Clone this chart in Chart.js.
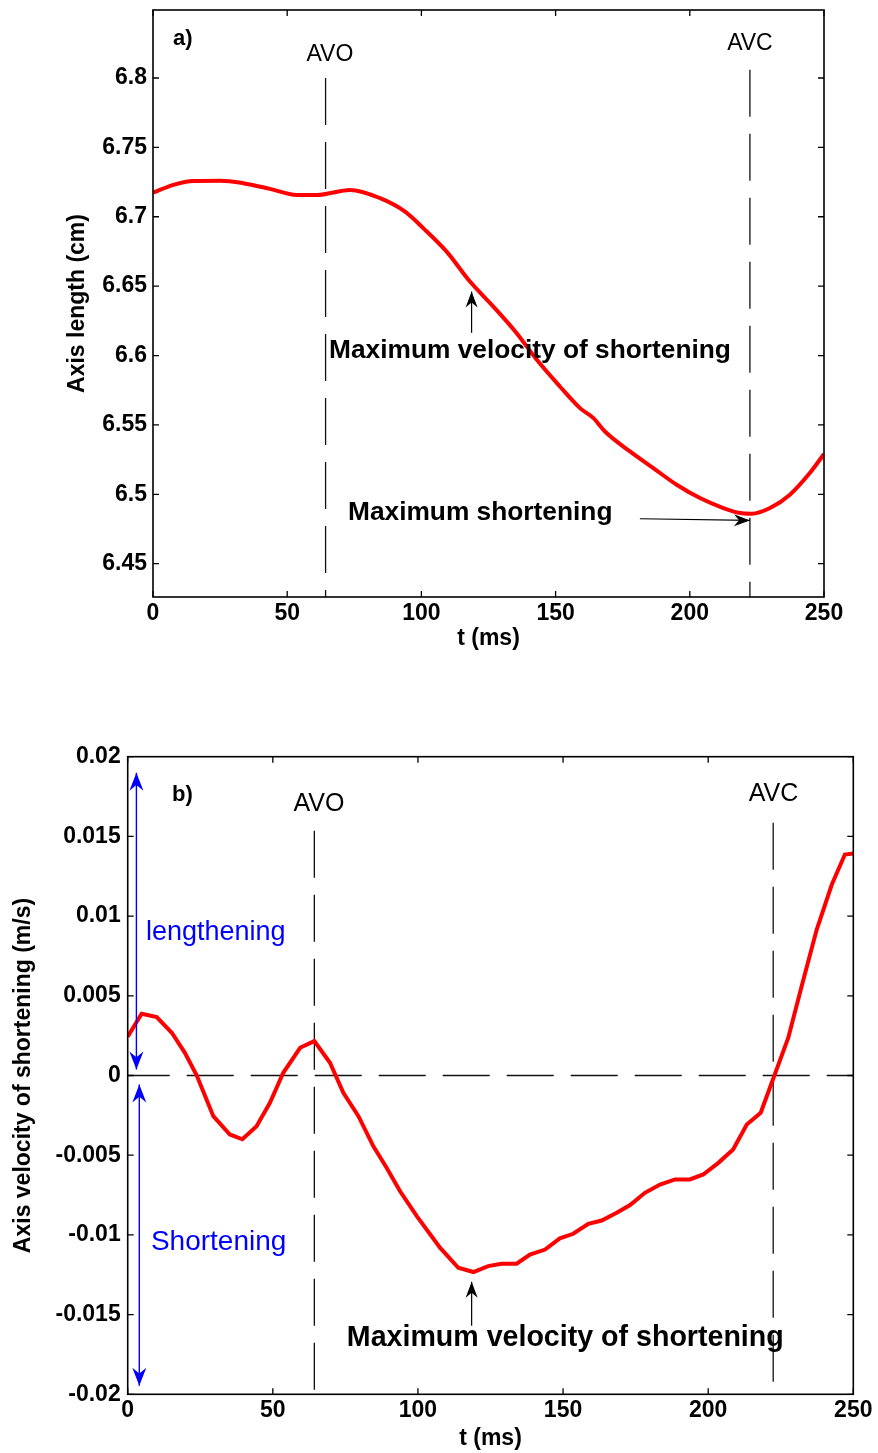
<!DOCTYPE html>
<html><head><meta charset="utf-8">
<script src="https://cdn.jsdelivr.net/npm/chart.js@4.4.1/dist/chart.umd.min.js"></script>
<style>
html,body{margin:0;padding:0;background:#fff;}
body{width:878px;height:1453px;position:relative;overflow:hidden;}
canvas{position:absolute;left:0;}
#c1{top:0;} #c2{top:700px;}
</style></head><body>
<canvas id="c1" width="878" height="660"></canvas>
<canvas id="c2" width="878" height="753"></canvas>
<script>
// ---------- data ----------
const tLength = [0, 7.6, 15, 25, 33.6, 43.6, 53.5, 61, 73.4, 84.6, 93.9, 100.7, 109.4, 118.1, 126.8, 135.5, 143, 151.6, 159.1, 164.1, 168.4, 177.7, 186.4, 195.1, 203.8, 212.5, 218.7, 223, 229.9, 237.3, 244.7, 250];
const axisLength = [6.7174, 6.723, 6.7258, 6.726, 6.7242, 6.7201, 6.7157, 6.7157, 6.7193, 6.7134, 6.7037, 6.6918, 6.6749, 6.6533, 6.6353, 6.6161, 6.5969, 6.5777, 6.5621, 6.5549, 6.5453, 6.5309, 6.5189, 6.5069, 6.4973, 6.4901, 6.4865, 6.486, 6.4901, 6.4997, 6.5153, 6.529];

const tVelocity = [0, 4.8, 10, 15.2, 19.7, 23.8, 29.5, 35.2, 39.5, 44.4, 49, 53.6, 59.4, 64.3, 69.7, 74.3, 79.5, 84.6, 89.2, 93.8, 99.6, 107.6, 113.9, 119.1, 124.2, 128.8, 134, 138.6, 143.8, 148.9, 153.5, 158.7, 163.3, 168.5, 173.1, 178.2, 183.4, 188.6, 193.7, 198.3, 203.5, 208.6, 213.3, 218.1, 227.6, 232.2, 237.4, 242.6, 247.1, 250];
const axisVelocity = [0.00243, 0.00387, 0.00366, 0.00268, 0.00142, 0.0, -0.00255, -0.0037, -0.0040, -0.00318, -0.00171, 0.00017, 0.00174, 0.00216, 0.0008, -0.00109, -0.00255, -0.00443, -0.00579, -0.00725, -0.00882, -0.0108, -0.01206, -0.01233, -0.01196, -0.01181, -0.01181, -0.01123, -0.01092, -0.01022, -0.00993, -0.0093, -0.0091, -0.00861, -0.00813, -0.00736, -0.00684, -0.00652, -0.00652, -0.00621, -0.00548, -0.00464, -0.00307, -0.00234, 0.00237, 0.0056, 0.00916, 0.01198, 0.01386, 0.01393];

const xTicks = [0, 50, 100, 150, 200, 250];
const xTickLabels = ['0', '50', '100', '150', '200', '250'];
const yTicksLength = [6.45, 6.5, 6.55, 6.6, 6.65, 6.7, 6.75, 6.8];
const yTickLabelsLength = ['6.45', '6.5', '6.55', '6.6', '6.65', '6.7', '6.75', '6.8'];
const yTicksVelocity = [-0.02, -0.015, -0.01, -0.005, 0, 0.005, 0.01, 0.015, 0.02];
const yTickLabelsVelocity = ['-0.02', '-0.015', '-0.01', '-0.005', '0', '0.005', '0.01', '0.015', '0.02'];

const tAVO = 64.3, tAVC = 222.4;
const lengthRange = [6.426, 6.849];
const velocityRange = [-0.02, 0.02];
const avoLineLength = [6.8, 6.426];
const avcLineLength = [6.806, 6.426];
const avoLineVelocity = [0.01535, -0.02];
const avcLineVelocity = [0.01585, -0.02];
const zeroLine = [0, 250];

// ---------- styles ----------
const FAM = "'Liberation Sans', Arial, sans-serif";
const tickFont = {family: FAM, size: 23, weight: 'bold'};
const titleFont = {family: FAM, size: 23, weight: 'bold'};

function pts(xs, ys) { return xs.map((x, i) => ({x: x, y: ys[i]})); }

function drawHead(ctx, x1, y1, x2, y2, len, hw, color) {
  const ang = Math.atan2(y2 - y1, x2 - x1);
  ctx.save();
  ctx.translate(x2, y2); ctx.rotate(ang);
  ctx.beginPath();
  ctx.moveTo(0, 0); ctx.lineTo(-len, -hw); ctx.lineTo(-len * 0.68, 0); ctx.lineTo(-len, hw);
  ctx.closePath(); ctx.fillStyle = color; ctx.fill();
  ctx.restore();
}

const framePlugin = {
  id: 'matlabFrame',
  afterDatasetsDraw(chart, args, opts) {
    const {ctx, chartArea: a} = chart;
    const xs = chart.scales.x, ys = chart.scales.y;
    ctx.save();
    (opts.arrows || []).forEach(ar => {
      const x1 = xs.getPixelForValue(ar.from[0]), y1 = ys.getPixelForValue(ar.from[1]);
      const x2 = xs.getPixelForValue(ar.to[0]), y2 = ys.getPixelForValue(ar.to[1]);
      ctx.strokeStyle = ar.color; ctx.lineWidth = ar.width;
      ctx.beginPath(); ctx.moveTo(x1, y1); ctx.lineTo(x2, y2); ctx.stroke();
      drawHead(ctx, x1, y1, x2, y2, ar.len, ar.hw, ar.color);
      if (ar.both) drawHead(ctx, x2, y2, x1, y1, ar.len, ar.hw, ar.color);
    });
    (opts.texts || []).forEach(t => {
      ctx.font = (t.weight || 'normal') + ' ' + t.size + 'px ' + FAM;
      ctx.fillStyle = t.color || '#000';
      ctx.textAlign = t.align || 'left';
      ctx.textBaseline = 'alphabetic';
      ctx.fillText(t.text, xs.getPixelForValue(t.x), ys.getPixelForValue(t.y));
    });
    ctx.strokeStyle = '#000'; ctx.lineWidth = 1.6; ctx.setLineDash([]);
    ctx.strokeRect(a.left, a.top, a.right - a.left, a.bottom - a.top);
    const L = 6;
    ctx.lineWidth = 1.3;
    ctx.beginPath();
    xs.ticks.forEach(tk => {
      const p = xs.getPixelForValue(tk.value);
      ctx.moveTo(p, a.bottom); ctx.lineTo(p, a.bottom - L);
      ctx.moveTo(p, a.top); ctx.lineTo(p, a.top + L);
    });
    ys.ticks.forEach(tk => {
      const p = ys.getPixelForValue(tk.value);
      ctx.moveTo(a.left, p); ctx.lineTo(a.left + L, p);
      ctx.moveTo(a.right, p); ctx.lineTo(a.right - L, p);
    });
    ctx.stroke();
    ctx.restore();
  }
};

function makeScales(c) {
  return {
    x: {
      type: 'linear', min: 0, max: 250,
      afterBuildTicks: s => { s.ticks = xTicks.map(v => ({value: v})); },
      afterFit: s => { s.height = c.xH; s.paddingLeft = 0; s.paddingRight = 0; s.paddingTop = 0; s.paddingBottom = 0; },
      grid: {display: false, drawTicks: false}, border: {display: false},
      ticks: {font: tickFont, color: '#000', padding: c.xPad, maxRotation: 0, autoSkip: false,
              callback: (v, i) => xTickLabels[i]},
      title: {display: true, text: 't (ms)', font: titleFont, color: '#000', padding: {top: 0, bottom: c.xTitlePad}}
    },
    y: {
      type: 'linear', min: c.yRange[0], max: c.yRange[1],
      afterBuildTicks: s => { s.ticks = c.yTicks.map(v => ({value: v})); },
      afterFit: s => { s.width = c.yW; s.paddingLeft = 0; s.paddingRight = 0; s.paddingTop = 0; s.paddingBottom = 0; },
      grid: {display: false, drawTicks: false}, border: {display: false},
      ticks: {font: tickFont, color: '#000', padding: c.yPad, autoSkip: false,
              callback: (v, i) => c.yLabels[i]},
      title: {display: true, text: c.yTitle, font: titleFont, color: '#000', padding: {top: c.yTitlePad, bottom: 0}}
    }
  };
}

const dashStyle = {borderColor: '#111', borderWidth: 1.3, borderDash: [47, 17], pointRadius: 0, fill: false, tension: 0};

// ---------- chart a) ----------
new Chart(document.getElementById('c1'), {
  type: 'line',
  data: {
    datasets: [
      {data: pts(tLength, axisLength), borderColor: '#ff0000', borderWidth: 4, pointRadius: 0, fill: false,
       cubicInterpolationMode: 'monotone'},
      Object.assign({data: pts([tAVO, tAVO], avoLineLength)}, dashStyle),
      Object.assign({data: pts([tAVC, tAVC], avcLineLength)}, dashStyle)
    ]
  },
  options: {
    responsive: false, animation: false, devicePixelRatio: 1,
    layout: {padding: {left: 0, top: 10, right: 54, bottom: 0}},
    plugins: {
      legend: {display: false}, tooltip: {enabled: false},
      matlabFrame: {
        texts: [
          {text: 'a)', x: 7.45, y: 6.8238, size: 22, weight: 'bold'},
          {text: 'AVO', x: 65.9, y: 6.8125, size: 23, align: 'center'},
          {text: 'AVC', x: 222.4, y: 6.8202, size: 23, align: 'center'},
          {text: 'Maximum velocity of shortening', x: 65.6, y: 6.5981, size: 26.3, weight: 'bold'},
          {text: 'Maximum shortening', x: 72.65, y: 6.4812, size: 26.3, weight: 'bold'}
        ],
        arrows: [
          {from: [118.7, 6.6164], to: [118.7, 6.6461], color: '#000', width: 1.2, len: 16, hw: 6},
          {from: [181.4, 6.4824], to: [222.4, 6.4812], color: '#000', width: 1.2, len: 16, hw: 6}
        ]
      }
    },
    scales: makeScales({xH: 63, xPad: 3, xTitlePad: 8, yW: 153, yPad: 6, yTitlePad: 64,
      yRange: lengthRange, yTicks: yTicksLength, yLabels: yTickLabelsLength, yTitle: 'Axis length (cm)'})
  },
  plugins: [framePlugin]
});

// ---------- chart b) ----------
new Chart(document.getElementById('c2'), {
  type: 'line',
  data: {
    datasets: [
      {data: pts(tVelocity, axisVelocity), borderColor: '#ff0000', borderWidth: 4, pointRadius: 0, fill: false, tension: 0},
      Object.assign({data: pts([tAVO, tAVO], avoLineVelocity)}, dashStyle),
      Object.assign({data: pts([tAVC, tAVC], avcLineVelocity)}, dashStyle),
      Object.assign({data: pts(zeroLine, [0, 0]), borderDashOffset: 5}, dashStyle)
    ]
  },
  options: {
    responsive: false, animation: false, devicePixelRatio: 1,
    layout: {padding: {left: 0, top: 56.7, right: 24.7, bottom: 0}},
    plugins: {
      legend: {display: false}, tooltip: {enabled: false},
      matlabFrame: {
        texts: [
          {text: 'b)', x: 15.26, y: 0.01721, size: 22, weight: 'bold'},
          {text: 'AVO', x: 65.9, y: 0.01659, size: 25, align: 'center'},
          {text: 'AVC', x: 222.5, y: 0.01721, size: 25, align: 'center'},
          {text: 'lengthening', x: 6.3, y: 0.00853, size: 27, color: '#0000ff'},
          {text: 'Shortening', x: 8.0, y: -0.01092, size: 28, color: '#0000ff'},
          {text: 'Maximum velocity of shortening', x: 75.5, y: -0.01698, size: 28.6, weight: 'bold'}
        ],
        arrows: [
          {from: [118.5, -0.0157], to: [118.5, -0.01294], color: '#000', width: 1.2, len: 16, hw: 6},
          {from: [3.0, 0.01899], to: [3.0, 0.00038], color: '#0000ff', width: 1.4, len: 18, hw: 7, both: true},
          {from: [4.0, -0.00056], to: [4.0, -0.01947], color: '#0000ff', width: 1.4, len: 18, hw: 7, both: true}
        ]
      }
    },
    scales: makeScales({xH: 58.7, xPad: 3, xTitlePad: 1, yW: 127.7, yPad: 7, yTitlePad: 10,
      yRange: velocityRange, yTicks: yTicksVelocity, yLabels: yTickLabelsVelocity, yTitle: 'Axis velocity of shortening (m/s)'})
  },
  plugins: [framePlugin]
});
</script>
</body></html>
